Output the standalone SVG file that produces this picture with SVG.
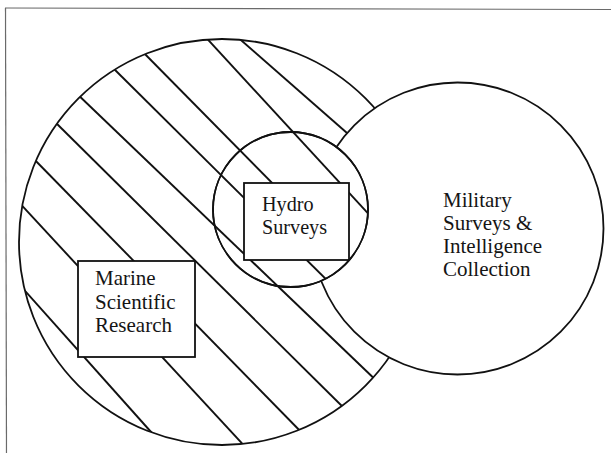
<svg xmlns="http://www.w3.org/2000/svg" xmlns:xlink="http://www.w3.org/1999/xlink" width="611" height="453" viewBox="0 0 611 453">
<style>
.frame{stroke:#6a6a6a;stroke-width:1.2;fill:none}
.circ{fill:#fff;stroke:#111;stroke-width:1.8}
.hatch line{stroke:#111;stroke-width:1.9}
.box{fill:#fff;stroke:#111;stroke-width:1.8}
.lbl{font-family:"Liberation Serif","Times New Roman",serif;font-size:21px;fill:#151515}
.small{font-size:20.2px}
</style>
<defs>
<clipPath id="clipBig"><circle cx="222" cy="242" r="203"/></clipPath>
<clipPath id="clipHydro"><circle cx="290.5" cy="209.5" r="77.5"/></clipPath>
<g id="hatchLines" class="hatch">
<line x1="18" y1="283" x2="160" y2="442"/>
<line x1="15" y1="198" x2="250" y2="452"/>
<line x1="30" y1="155" x2="308" y2="439"/>
<line x1="50" y1="117" x2="351" y2="415"/>
<line x1="73" y1="90" x2="383" y2="387"/>
<line x1="107" y1="62" x2="350" y2="303"/>
<line x1="137" y1="46" x2="365" y2="277"/>
<line x1="200" y1="31" x2="375" y2="221"/>
<line x1="234" y1="34" x2="355" y2="140"/>
</g>
</defs>
<g id="frame">
<line class="frame" x1="5" y1="8" x2="611" y2="9.5"/>
<line class="frame" x1="5.5" y1="8" x2="6.5" y2="453"/>
</g>
<g id="marine-circle">
<circle class="circ" cx="222" cy="242" r="203"/>
<use xlink:href="#hatchLines" clip-path="url(#clipBig)"/>
</g>
<g id="military">
<circle class="circ" cx="457.5" cy="228.5" r="146"/>
<text class="lbl" x="443" y="206.5"><tspan x="443" y="206.5">Military</tspan><tspan x="443" y="229.8">Surveys &amp;</tspan><tspan x="443" y="253.1">Intelligence</tspan><tspan x="443" y="276.4">Collection</tspan></text>
</g>
<g id="hydro-circle">
<circle class="circ" cx="290.5" cy="209.5" r="77.5"/>
<use xlink:href="#hatchLines" clip-path="url(#clipHydro)"/>
<circle cx="290.5" cy="209.5" r="77.5" fill="none" stroke="#111" stroke-width="1.8"/>
</g>
<g id="hydro">
<rect class="box" x="244" y="183" width="105" height="77"/>
<text class="lbl small" x="262" y="211"><tspan x="262" y="211">Hydro</tspan><tspan x="262" y="233.6">Surveys</tspan></text>
</g>
<g id="marine">
<rect class="box" x="78" y="261" width="117" height="96"/>
<text class="lbl" x="95" y="285"><tspan x="95" y="285">Marine</tspan><tspan x="95" y="308.5">Scientific</tspan><tspan x="95" y="332">Research</tspan></text>
</g>
</svg>
